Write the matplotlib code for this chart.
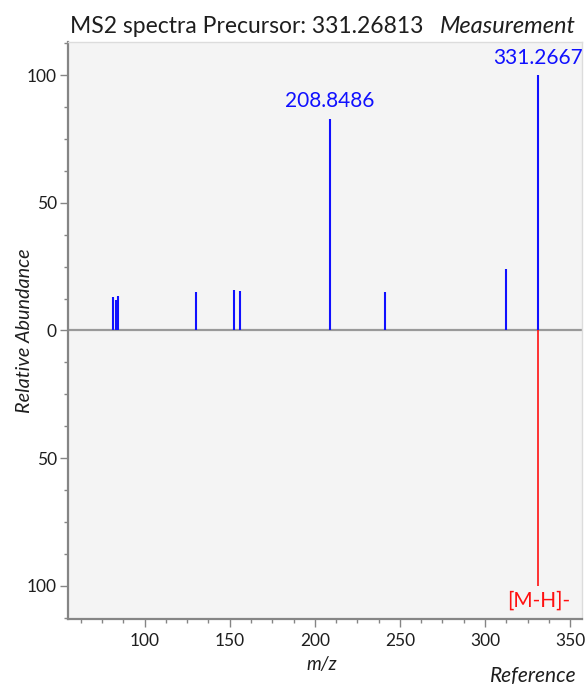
import matplotlib
matplotlib.use("Agg")
import matplotlib.pyplot as plt
from matplotlib.ticker import MultipleLocator, FuncFormatter

plt.rcParams["font.family"] = ["Lato", "DejaVu Sans"]

precursor = "331.26813"

# measured fragment peaks (m/z, relative abundance)
meas_mz = [81.4, 83.2, 84.6, 130.2, 152.5, 155.9, 208.8486, 241.2, 312.4, 331.2667]
meas_int = [13.2, 12.1, 13.7, 15.2, 15.7, 15.3, 83.0, 15.2, 24.1, 100.0]
meas_labels = {208.8486: "208.8486", 331.2667: "331.2667"}

# reference peaks, drawn mirrored below zero
ref_mz = [331.2667]
ref_int = [100.0]
ref_labels = ["[M-H]-"]

blue = "#1010ff"
red = "#ff1010"
grey = "#858585"
text_col = "#1e1e1e"

fig = plt.figure(figsize=(5.87, 6.86), dpi=100)
ax = fig.add_axes([0.1158, 0.0977, 0.8757, 0.8411])
ax.set_facecolor("#f4f4f4")

ax.vlines(meas_mz, 0, meas_int, color=blue, linewidth=1.5)
ax.vlines(ref_mz, 0, [-v for v in ref_int], color=red, linewidth=1.2)
ax.axhline(0, color="#999999", linewidth=1.6, zorder=1)

for mz, inten in zip(meas_mz, meas_int):
    if mz in meas_labels:
        ax.annotate(meas_labels[mz], (mz, inten), xytext=(0, 8),
                    textcoords="offset points", ha="center", va="baseline",
                    color=blue, fontsize=15, annotation_clip=False)
for mz, inten, lab in zip(ref_mz, ref_int, ref_labels):
    ax.annotate(lab, (mz, -inten), xytext=(0, -3.5),
                textcoords="offset points", ha="center", va="top",
                color=red, fontsize=15)

ax.set_xlim(55, 357)
ax.set_ylim(-113, 113)

ax.xaxis.set_major_locator(MultipleLocator(50))
ax.xaxis.set_minor_locator(MultipleLocator(12.5))
ax.yaxis.set_major_locator(MultipleLocator(50))
ax.yaxis.set_minor_locator(MultipleLocator(12.5))
ax.yaxis.set_major_formatter(FuncFormatter(lambda v, p: "%d" % abs(v)))

ax.tick_params(which="both", direction="out", color=grey, labelsize=12.5,
               labelcolor=text_col, width=1)
ax.tick_params(which="major", length=6)
ax.tick_params(which="minor", length=3)
ax.tick_params(axis="x", which="major", pad=4)
ax.tick_params(axis="y", which="major", pad=2)

for side in ["left", "bottom"]:
    ax.spines[side].set_color(grey)
    ax.spines[side].set_linewidth(1.6)
for side in ["top", "right"]:
    ax.spines[side].set_color("#dcdcdc")
    ax.spines[side].set_linewidth(1.0)

# axis titles
fig.text(25 / 587, 0.5175, "Relative Abundance", rotation=90,
         fontstyle="italic", fontsize=14.3, ha="center", va="center",
         color=text_col)
fig.text(0.5486, 0.0233, "m/z", fontstyle="italic", fontsize=13.5,
         ha="center", va="baseline", color=text_col)

# header and panel captions
fig.text(70 / 587, 0.9519, "MS2 spectra Precursor: " + precursor,
         fontsize=16.5, ha="left", va="baseline", color=text_col)
fig.text(440 / 587, 0.9519, "Measurement", fontsize=17,
         fontstyle="italic", ha="left", va="baseline", color=text_col)
fig.text(577 / 587, 0.0058, "Reference", fontsize=15, fontstyle="italic",
         ha="right", va="baseline", color=text_col)

fig.savefig("out.png", dpi=100)
